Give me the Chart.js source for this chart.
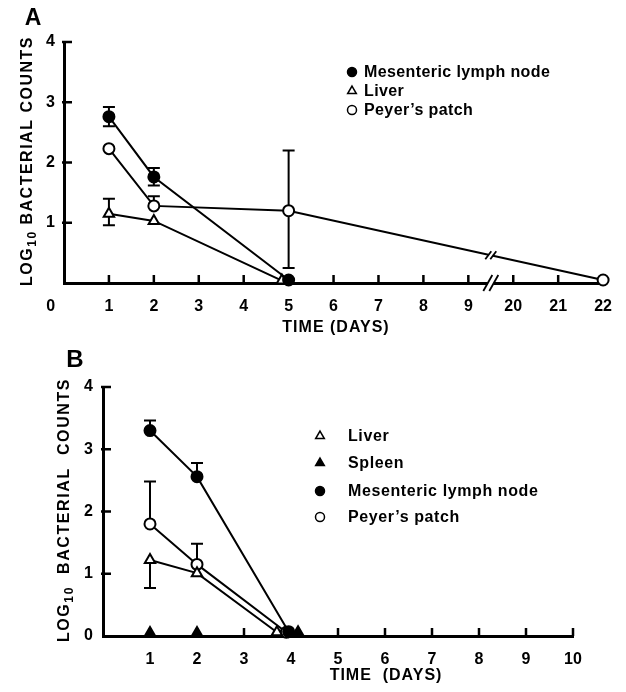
<!DOCTYPE html>
<html>
<head>
<meta charset="utf-8">
<script src="https://cdn.jsdelivr.net/npm/chart.js@4.4.0/dist/chart.umd.min.js"></script>
<style>
  html, body { margin: 0; padding: 0; background: #fff; }
  #wrap { position: relative; width: 626px; height: 692px; }
  canvas { position: absolute; left: 0; }
  #chartA { top: 0; }
  #chartB { top: 345px; }
</style>
</head>
<body>
<div id="wrap">
  <canvas id="chartA" width="626" height="345"></canvas>
  <canvas id="chartB" width="626" height="347"></canvas>
</div>
<script>
const FONT = '"Liberation Sans", Arial, sans-serif';

// ---- Panel A (days, log10 counts) ----
const xTicksA = [0, 1, 2, 3, 4, 5, 6, 7, 8, 9, 20, 21, 22];
const yTicks = [0, 1, 2, 3, 4];

const mlnA_days = [1, 2, 5];
const mlnA_vals = [2.76, 1.76, 0.05];
const mlnA_hi   = [2.92, 1.91, null];
const mlnA_lo   = [2.60, 1.62, null];

const liverA_days = [1, 2, 4.85];
const liverA_vals = [1.15, 1.03, 0.04];
const liverA_hi   = [1.40, null, null];
const liverA_lo   = [0.96, null, null];

const peyerA_days = [1, 2, 5, 22];
const peyerA_vals = [2.23, 1.28, 1.20, 0.05];
const peyerA_hi   = [null, 1.44, 2.20, null];
const peyerA_lo   = [null, null, 0.25, null];

// ---- Panel B ----
const xTicksB = [1, 2, 3, 4, 5, 6, 7, 8, 9, 10];

const liverB_days = [1, 2, 3.7];
const liverB_vals = [1.22, 1.01, 0.06];
const liverB_lo   = [0.77, null, null];

const spleenB_days = [1, 2, 4.15];
const spleenB_vals = [0.05, 0.05, 0.06];

const mlnB_days = [1, 2, 3.95];
const mlnB_vals = [3.30, 2.56, 0.07];
const mlnB_hi   = [3.46, 2.78, null];

const peyerB_days = [1, 2, 3.9];
const peyerB_vals = [1.80, 1.15, 0.06];
const peyerB_hi   = [2.48, 1.48, null];

// axis A is broken between 9 and 20
const BREAK_A = 9.5;
const posA = d => (d <= BREAK_A ? d : d - 10);
const posB = d => d;

function series(label, days, vals, hi, lo, style, filled, map, showLine = true) {
  return {
    label,
    data: days.map((d, i) => ({ x: map(d), y: vals[i] })),
    errHi: hi, errLo: lo,
    showLine,
    borderColor: '#000',
    borderWidth: 2,
    pointStyle: style,
    pointRadius: style === 'triangle' ? 6 : 5.5,
    pointBorderWidth: 2,
    pointBackgroundColor: filled ? '#000' : '#fff',
    pointBorderColor: '#000',
    tension: 0,
    clip: false
  };
}

// error bars, drawn under the markers
const errorBars = {
  id: 'errorBars',
  beforeDatasetsDraw(chart) {
    const { ctx, scales: { y } } = chart;
    ctx.save();
    ctx.strokeStyle = '#000';
    ctx.lineWidth = 2;
    chart.data.datasets.forEach((ds, di) => {
      const pts = chart.getDatasetMeta(di).data;
      pts.forEach((pt, i) => {
        const hi = ds.errHi ? ds.errHi[i] : null;
        const lo = ds.errLo ? ds.errLo[i] : null;
        if (hi == null && lo == null) return;
        const top = y.getPixelForValue(hi != null ? hi : ds.data[i].y);
        const bot = y.getPixelForValue(lo != null ? lo : ds.data[i].y);
        ctx.beginPath();
        ctx.moveTo(pt.x, top); ctx.lineTo(pt.x, bot);
        if (hi != null) { ctx.moveTo(pt.x - 6, top); ctx.lineTo(pt.x + 6, top); }
        if (lo != null) { ctx.moveTo(pt.x - 6, bot); ctx.lineTo(pt.x + 6, bot); }
        ctx.stroke();
      });
    });
    ctx.restore();
  }
};

function drawYTitle(ctx, cx, cy, size, rest, spacing) {
  ctx.save();
  ctx.translate(cx, cy);
  ctx.rotate(-Math.PI / 2);
  ctx.fillStyle = '#000';
  ctx.textBaseline = 'middle';
  ctx.textAlign = 'left';
  ctx.letterSpacing = spacing + 'px';
  const big = `bold ${size}px ${FONT}`;
  const small = `bold ${Math.round(size * 0.75)}px ${FONT}`;
  const parts = [['LOG', big, 0], ['10', small, 5], [rest, big, 0]];
  let total = 0;
  parts.forEach(p => { ctx.font = p[1]; total += ctx.measureText(p[0]).width; });
  let x = -total / 2;
  parts.forEach(p => {
    ctx.font = p[1];
    ctx.fillText(p[0], x, p[2]);
    x += ctx.measureText(p[0]).width;
  });
  ctx.restore();
}

function slash(ctx, x, y, h, w) {
  ctx.beginPath();
  ctx.moveTo(x - w / 2, y + h / 2);
  ctx.lineTo(x + w / 2, y - h / 2);
  ctx.stroke();
}

// inward ticks, titles, legend, axis break
const decor = {
  id: 'decor',
  afterDraw(chart, args, o) {
    const { ctx, chartArea: a, scales: { x, y } } = chart;
    ctx.save();
    ctx.strokeStyle = '#000';
    ctx.fillStyle = '#000';
    ctx.lineWidth = 2.5;
    ctx.beginPath();
    x.ticks.forEach(t => {
      if (t.value <= x.min || (o.skipLastTick && t.value >= x.max)) return;
      const px = x.getPixelForValue(t.value);
      ctx.moveTo(px, a.bottom); ctx.lineTo(px, a.bottom - 8);
    });
    y.ticks.forEach(t => {
      if (t.value <= y.min) return;
      const py = y.getPixelForValue(t.value);
      ctx.moveTo(a.left - 2, py); ctx.lineTo(a.left + 8, py);
    });
    ctx.stroke();

    // panel letter
    ctx.font = `bold ${o.letterSize}px ${FONT}`;
    ctx.textAlign = 'center';
    ctx.textBaseline = 'middle';
    ctx.fillText(o.letter, o.letterX, o.letterY);

    // x title
    ctx.font = `bold 16px ${FONT}`;
    ctx.letterSpacing = '1px';
    ctx.fillText(o.xTitle, o.xTitleX, o.xTitleY);
    ctx.letterSpacing = '0px';

    // y title
    drawYTitle(ctx, o.yTitleX, o.yTitleY, 16, o.yTitleRest, o.yTitleSpacing);

    // legend
    ctx.textAlign = 'left';
    chart.data.datasets.forEach((ds, i) => {
      const ly = o.legendY[i];
      ctx.fillStyle = ds.pointBackgroundColor;
      ctx.strokeStyle = '#000';
      ctx.lineWidth = 1.5;
      Chart.helpers.drawPoint(ctx, {
        pointStyle: ds.pointStyle, rotation: 0,
        radius: ds.pointStyle === 'triangle' ? 5 : 4.5, borderWidth: 1.5
      }, o.legendMarkX, ly);
      ctx.fillStyle = '#000';
      ctx.font = `bold 16px ${FONT}`;
      ctx.letterSpacing = o.legendSpacing + 'px';
      ctx.fillText(ds.label, o.legendTextX, ly + 1);
      ctx.letterSpacing = '0px';
    });

    // axis break
    if (o.breakAt != null) {
      const bx = x.getPixelForValue(o.breakAt);
      ctx.fillStyle = '#fff';
      ctx.fillRect(bx - 3, a.bottom - 3, 6, 6);
      ctx.strokeStyle = '#000';
      ctx.lineWidth = 1.8;
      slash(ctx, bx - 3, a.bottom, 16, 9);
      slash(ctx, bx + 3, a.bottom, 16, 9);
      // break on the line that crosses it
      const pts = chart.getDatasetMeta(o.breakDataset).data;
      for (let i = 1; i < pts.length; i++) {
        if (pts[i - 1].x <= bx && pts[i].x >= bx) {
          const f = (bx - pts[i - 1].x) / (pts[i].x - pts[i - 1].x);
          const ly = pts[i - 1].y + f * (pts[i].y - pts[i - 1].y);
          ctx.fillStyle = '#fff';
          ctx.fillRect(bx - 2, ly - 3, 4, 6);
          slash(ctx, bx - 2.5, ly, 8, 6);
          slash(ctx, bx + 2.5, ly, 8, 6);
        }
      }
    }
    ctx.restore();
  }
};

function axes(xMin, xMax, xTickVals, xLabel, yLabel, yWidth, xHeight, yPad) {
  const tickFont = { family: FONT, size: 16, weight: 'bold' };
  return {
    x: {
      type: 'linear', min: xMin, max: xMax,
      afterBuildTicks: s => { s.ticks = xTickVals.map(v => ({ value: v })); },
      afterFit: s => { s.height = xHeight; },
      grid: { display: true, drawOnChartArea: false, drawTicks: false },
      border: { display: true, width: 3, color: '#000' },
      ticks: {
        autoSkip: false, maxRotation: 0, padding: 14, color: '#000', font: tickFont,
        callback: (v, i) => xLabel(i)
      }
    },
    y: {
      type: 'linear', min: 0, max: 4,
      afterBuildTicks: s => { s.ticks = yTicks.map(v => ({ value: v })); },
      afterFit: s => { s.width = yWidth; },
      grid: { display: true, drawOnChartArea: false, drawTicks: false },
      border: { display: true, width: 3, color: '#000' },
      ticks: { padding: yPad, color: '#000', font: tickFont, callback: (v, i) => yLabel(v) }
    }
  };
}

new Chart(document.getElementById('chartA'), {
  type: 'scatter',
  data: {
    datasets: [
      series('Mesenteric lymph node', mlnA_days, mlnA_vals, mlnA_hi, mlnA_lo, 'circle', true, posA),
      series('Liver', liverA_days, liverA_vals, liverA_hi, liverA_lo, 'triangle', false, posA),
      series("Peyer\u2019s patch", peyerA_days, peyerA_vals, peyerA_hi, peyerA_lo, 'circle', false, posA)
    ]
  },
  options: {
    responsive: false,
    animation: false,
    layout: { padding: { top: 42, right: 14, left: 0, bottom: 0 } },
    scales: axes(0, posA(22), xTicksA.map(posA),
      i => (i === 0 ? '0      ' : String(xTicksA[i])),
      v => (v === 0 ? '' : String(v)), 64, 62, 9),
    plugins: {
      legend: { display: false },
      tooltip: { enabled: false },
      decor: {
        letter: 'A', letterSize: 23, letterX: 33, letterY: 19,
        xTitle: 'TIME (DAYS)', xTitleX: 336, xTitleY: 328,
        yTitleX: 28, yTitleY: 161, yTitleRest: ' BACTERIAL COUNTS', yTitleSpacing: 1.5,
        legendMarkX: 352, legendTextX: 364, legendY: [72, 91, 110], legendSpacing: 0.4,
        breakAt: BREAK_A, breakDataset: 2, skipLastTick: true
      }
    }
  },
  plugins: [errorBars, decor]
});

new Chart(document.getElementById('chartB'), {
  type: 'scatter',
  data: {
    datasets: [
      series('Liver', liverB_days, liverB_vals, null, liverB_lo, 'triangle', false, posB),
      series('Spleen', spleenB_days, spleenB_vals, null, null, 'triangle', true, posB, false),
      series('Mesenteric lymph node', mlnB_days, mlnB_vals, mlnB_hi, null, 'circle', true, posB),
      series("Peyer\u2019s patch", peyerB_days, peyerB_vals, peyerB_hi, null, 'circle', false, posB)
    ]
  },
  options: {
    responsive: false,
    animation: false,
    layout: { padding: { top: 42, right: 53, left: 0, bottom: 0 } },
    scales: axes(0, 10, xTicksB, i => String(xTicksB[i]), v => String(v), 103, 56, 10),
    plugins: {
      legend: { display: false },
      tooltip: { enabled: false },
      decor: {
        letter: 'B', letterSize: 24, letterX: 75, letterY: 15,
        xTitle: 'TIME  (DAYS)', xTitleX: 386, xTitleY: 331,
        yTitleX: 65, yTitleY: 165, yTitleRest: '  BACTERIAL  COUNTS', yTitleSpacing: 1.6,
        legendMarkX: 320, legendTextX: 348, legendY: [91, 118, 146, 172], legendSpacing: 0.6,
        breakAt: null
      }
    }
  },
  plugins: [errorBars, decor]
});
</script>
</body>
</html>
